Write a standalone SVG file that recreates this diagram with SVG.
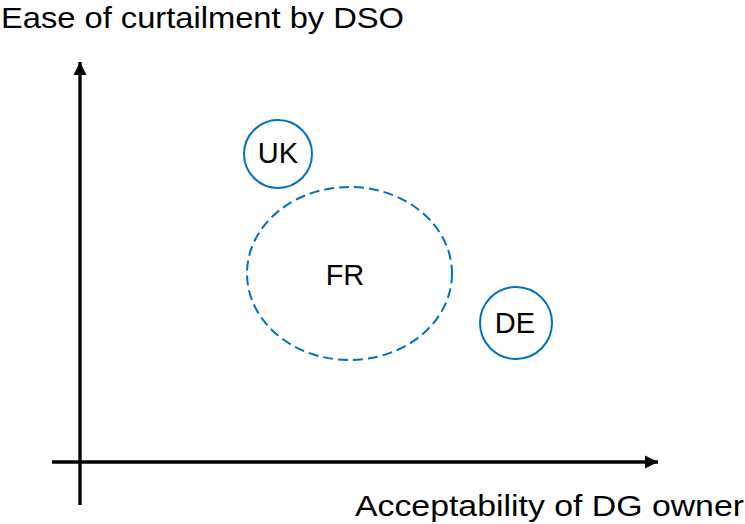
<svg xmlns="http://www.w3.org/2000/svg" width="745" height="524" viewBox="0 0 745 524">
<style>
.t{font-family:"Liberation Sans",Arial,sans-serif;fill:#000}
.ax{stroke:#000;stroke-width:3.3;fill:none}
.c{fill:none;stroke:#0070C0;stroke-width:2}
</style>
<defs>
<marker id="ah" markerWidth="4" markerHeight="4" viewBox="0 0 12 12" refX="12" refY="6" orient="auto" markerUnits="strokeWidth">
<path d="M0,0 L12,6 L0,12 Z" fill="#000"/>
</marker>
</defs>
<rect width="745" height="524" fill="#fff"/>
<g id="connectors">
<line class="ax" x1="80" y1="505" x2="80" y2="62" marker-end="url(#ah)"/>
<line class="ax" x1="52" y1="462" x2="658" y2="462" marker-end="url(#ah)"/>
</g>
<g id="ylabel"><text class="t" x="1" y="28" font-size="30" textLength="403" lengthAdjust="spacingAndGlyphs">Ease of curtailment by DSO</text></g>
<g id="xlabel"><text class="t" x="355" y="516" font-size="30" textLength="389" lengthAdjust="spacingAndGlyphs">Acceptability of DG owner</text></g>
<g id="UK">
<circle class="c" cx="278" cy="154" r="34"/>
<text class="t" x="278" y="163" font-size="29" text-anchor="middle">UK</text>
</g>
<g id="FR">
<ellipse class="c" cx="349.5" cy="273.5" rx="102.5" ry="86.5" stroke-dasharray="10,5"/>
<text class="t" x="345" y="285" font-size="29" text-anchor="middle">FR</text>
</g>
<g id="DE">
<circle class="c" cx="516" cy="323" r="36"/>
<text class="t" x="515" y="333" font-size="29" text-anchor="middle">DE</text>
</g>
</svg>
